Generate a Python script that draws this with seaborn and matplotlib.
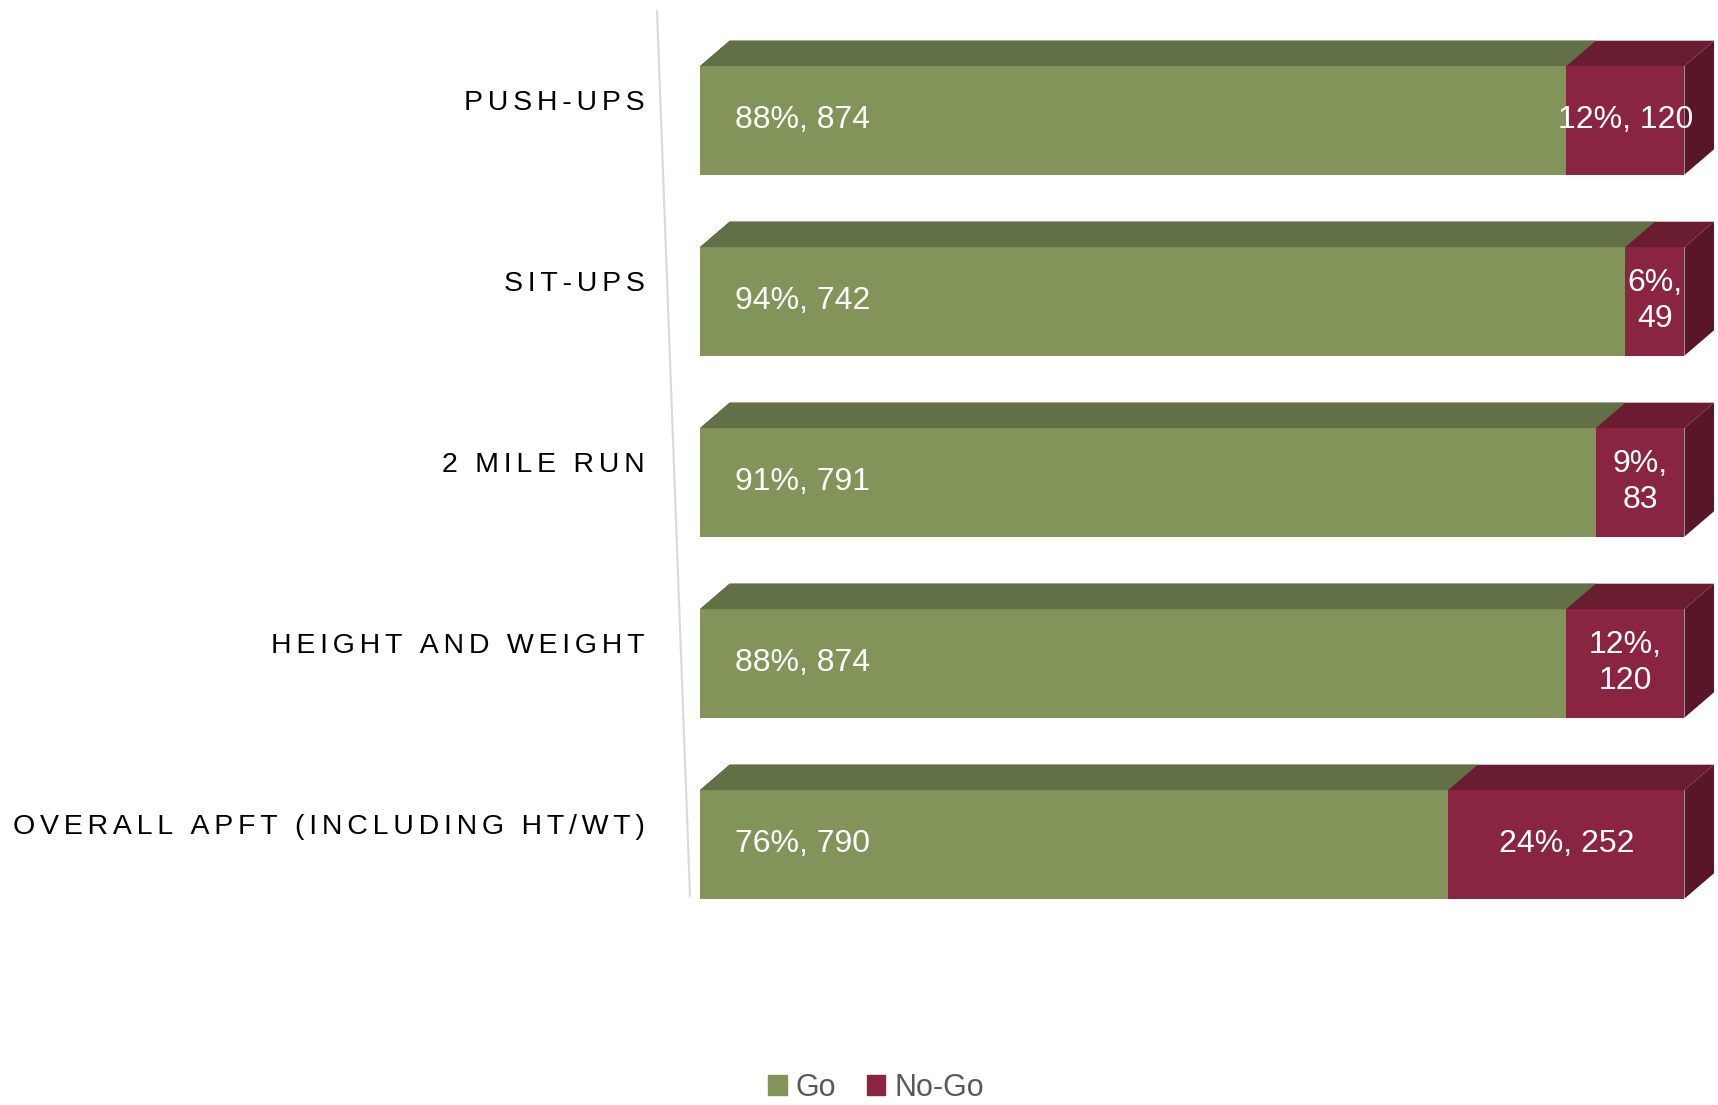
import pandas as pd
import seaborn as sns
import matplotlib.pyplot as plt
from matplotlib.patches import Polygon, Patch
from matplotlib.lines import Line2D
import matplotlib.transforms as mtransforms

# Chart data
categories = ['PUSH-UPS', 'SIT-UPS', '2 MILE RUN', 'HEIGHT AND WEIGHT', 'OVERALL APFT (INCLUDING HT/WT)']
go_pct = [88, 94, 91, 88, 76]
go_n = [874, 742, 791, 874, 790]
nogo_pct = [12, 6, 9, 12, 24]
nogo_n = [120, 49, 83, 120, 252]
nogo_wrap = [False, True, True, True, False]

df = pd.DataFrame({'category': categories, 'go': go_pct, 'nogo': nogo_pct})
df['total'] = df['go'] + df['nogo']

go_front, go_top = '#82945A', '#617045'
ng_front, ng_top, ng_side = '#8A2541', '#6A1C30', '#581628'

sns.set_theme(style='white')
plt.rcParams['font.family'] = ['Liberation Sans', 'DejaVu Sans']

fig = plt.figure(figsize=(17.18, 11.05), dpi=100)
ax = fig.add_axes([0.4075, 0.154, 0.573, 0.819])

# stacked 100% bars: total first (No-Go colour), then Go over it
sns.barplot(data=df, y='category', x='total', color=ng_front, width=0.6,
            orient='h', ax=ax, saturation=1, linewidth=0, edgecolor='none')
sns.barplot(data=df, y='category', x='go', color=go_front, width=0.6,
            orient='h', ax=ax, saturation=1, linewidth=0, edgecolor='none')

ax.set_xlim(0, 100)
ax.set_xlabel('')
ax.set_ylabel('')
ax.set_xticks([])
sns.despine(ax=ax, left=True, bottom=True)

# fake 3D depth: top face for every segment, side face at the right end
dx, dy = 3.0, 0.14
n = len(categories)
for i, p in enumerate(ax.patches):
    x0, w = p.get_x(), p.get_width()
    y_top = p.get_y()
    is_go = i >= n
    top_col = go_top if is_go else ng_top
    ax.add_patch(Polygon([(x0, y_top), (x0 + w, y_top), (x0 + w + dx, y_top - dy),
                          (x0 + dx, y_top - dy)], closed=True, facecolor=top_col,
                         edgecolor='none', clip_on=False, zorder=p.get_zorder()))
    if not is_go:
        h = p.get_height()
        ax.add_patch(Polygon([(x0 + w, y_top), (x0 + w + dx, y_top - dy),
                              (x0 + w + dx, y_top + h - dy), (x0 + w, y_top + h)],
                             closed=True, facecolor=ng_side, edgecolor='none',
                             clip_on=False, zorder=p.get_zorder()))

# data labels
for i in range(n):
    ax.text(3.5, i, f'{go_pct[i]}%, {go_n[i]}', color='white', fontsize=23,
            ha='left', va='center', zorder=5)
    sep = '\n' if nogo_wrap[i] else ' '
    ax.text(go_pct[i] + nogo_pct[i] / 2, i, f'{nogo_pct[i]}%,{sep}{nogo_n[i]}',
            color='white', fontsize=23, ha='center', va='center', zorder=5,
            linespacing=1.25)

# spaced-out category labels
ax.set_yticks(range(n))
ax.set_yticklabels(['\u200a\u200a'.join(c) for c in categories], fontsize=20.5, color='black')
ax.tick_params(axis='y', length=0, pad=40)
shift = mtransforms.ScaledTranslation(0, 0.2, fig.dpi_scale_trans)
for lab in ax.get_yticklabels():
    lab.set_transform(lab.get_transform() + shift)

# slanted axis line
fig.add_artist(Line2D([657 / 1718, 690 / 1718], [1 - 11 / 1105, 1 - 896 / 1105],
                      color='#D9D9D9', lw=1.5))

handles = [Patch(color=go_front, label='Go'), Patch(color=ng_front, label='No-Go')]
fig.legend(handles=handles, loc='lower center', bbox_to_anchor=(0.51, -0.023), ncol=2,
           frameon=False, fontsize=22, handlelength=0.6, handleheight=0.6,
           handletextpad=0.3, columnspacing=1.0, labelcolor='#595959')

fig.savefig('out.png', dpi=100)
